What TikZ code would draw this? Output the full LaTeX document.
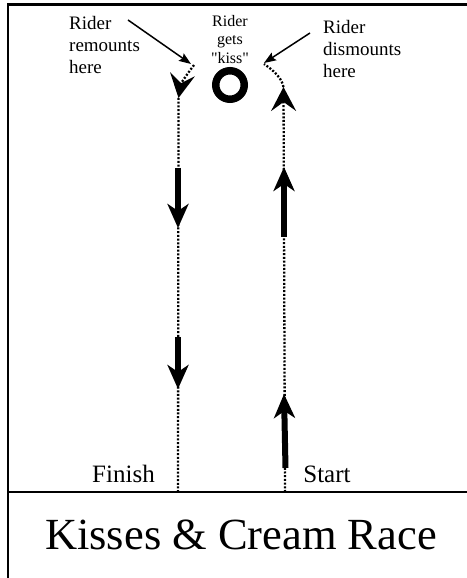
\documentclass[tikz,border=0pt]{standalone}
\usepackage{fontspec}
\setmainfont{Liberation Serif}
\newfontfamily\plainserif{Liberation Serif}
\usepackage{tikz}
\usetikzlibrary{arrows.meta,positioning,calc}
\definecolor{ink}{HTML}{000000}
\tikzset{
  frameline/.style={draw=ink,line width=2.6pt},
  divider/.style={draw=ink,line width=1.5pt},
  track/.style={draw=ink,line width=2.3pt,dash pattern=on 2pt off 1.7pt},
  trackarr/.style={track,-{Stealth[length=24pt,width=25pt,inset=9pt]}},
  runarr/.style={draw=ink,line width=6pt,
                 -{Stealth[length=24pt,width=21pt,inset=7pt]}},
  pointer/.style={draw=ink,line width=1.5pt,
                  -{Stealth[length=12pt,width=9pt,inset=2pt]}},
  sidelabel/.style={align=left,inner sep=0pt,
                    font=\fontsize{19}{22}\selectfont},
  kisslabel/.style={align=center,inner sep=0pt,
                    font=\fontsize{16}{18.5}\plainserif},
  endlabel/.style={inner sep=0pt,font=\fontsize{25}{28}\selectfont},
  titlelabel/.style={inner sep=0pt,font=\fontsize{44.5}{50}\selectfont}
}
\begin{document}
\begin{tikzpicture}[x=1pt,y=1pt]
    \path[use as bounding box] (0,0) rectangle (466,578);
    % frame and divider
    \draw[frameline] (8,0) -- (8,573.5) -- (470,573.5);
    \draw[divider] (8,86) -- (470,86);

    % the kiss station
    \node[draw=ink,circle,line width=7.5pt,minimum size=28.5pt,inner sep=0pt]
      (kiss) at (230,493) {};
    \node[kisslabel,anchor=north] (getskiss) at (230,563)
      {Rider\\gets\\"kiss"};
    \node[sidelabel,anchor=north west] (remount) at (69,562)
      {Rider\\remounts\\here};
    \node[sidelabel,anchor=north west] (dismount) at (323,558)
      {Rider\\dismounts\\here};

    % track points
    \coordinate (remountpt) at (194,513);
    \coordinate (dismountpt) at (264,514);
    \coordinate (lefttop) at (178.5,480);
    \coordinate (leftfoot) at (178,86);
    \coordinate (righttop) at (283.5,491);
    \coordinate (rightfoot) at (285,86);

    \draw[trackarr] (remountpt) .. controls (188,505) and (181,495) .. (lefttop);
    \draw[track] (lefttop) -- (leftfoot);
    \draw[trackarr] (rightfoot) -- (righttop);
    \draw[track] (righttop) .. controls (282,500) and (273,508) .. (dismountpt);

    % pointers from the labels
    \coordinate (remounttail) at (128,558);
    \coordinate (dismounttail) at (310,545);
    \draw[pointer] (remounttail) -- (191,514);
    \draw[pointer] (dismounttail) -- (264,515);

    % running direction
    \coordinate (l1a) at (178,410); \coordinate (l1b) at (178,350);
    \coordinate (l2a) at (178,241); \coordinate (l2b) at (178,189);
    \coordinate (r1a) at (284,341); \coordinate (r1b) at (284,411);
    \coordinate (r2a) at (285.5,110); \coordinate (r2b) at (284,184);
    \draw[runarr] (l1a) -- (l1b);
    \draw[runarr] (l2a) -- (l2b);
    \draw[runarr] (r1a) -- (r1b);
    \draw[runarr] (r2a) -- (r2b);

    % ends and title
    \node[endlabel,anchor=base] (finish) at (123.5,95) {Finish};
    \node[endlabel,anchor=base] (start) at (327,95) {Start};
    \node[titlelabel,anchor=base] (title) at (241,28) {Kisses \& Cream Race};
  \end{tikzpicture}
\end{document}
